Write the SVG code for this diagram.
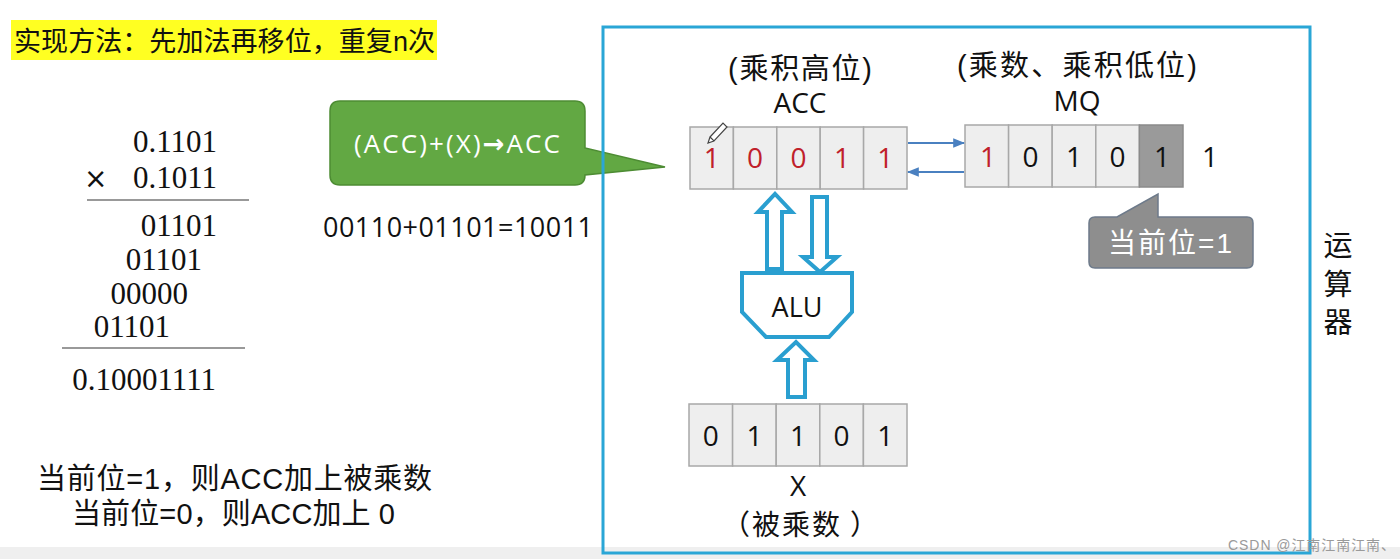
<svg xmlns="http://www.w3.org/2000/svg" width="1400" height="559" viewBox="0 0 1400 559">
<defs>
<style>
.cjk{font-family:"Liberation Sans","Noto Sans CJK SC",sans-serif;fill:#111}
.cjkf{font-family:"Noto Sans CJK SC",sans-serif;fill:#111}
.serif{font-family:"Liberation Serif",serif;font-size:31px;fill:#111}
.sans{font-family:"Open Sans","Liberation Sans","Noto Sans CJK SC",sans-serif;fill:#111}
.cell{fill:#eeeeee;stroke:#a8a8a8;stroke-width:1.5}
.dig{font-family:"Open Sans","Liberation Sans",sans-serif;font-size:28px;text-anchor:middle}
.red{fill:#c0202a}
.blk{fill:#111}
.hollow{fill:#fff;stroke:#2a9fd0;stroke-width:4;stroke-linejoin:miter}
.thin{stroke:#4a80c0;stroke-width:2;fill:none}
</style>
<marker id="ah" viewBox="0 0 10 10" refX="9" refY="5" markerWidth="6" markerHeight="6" orient="auto-start-reverse">
<path d="M0,1 L10,5 L0,9 z" fill="#4a80c0"/>
</marker>
</defs>
<rect width="1400" height="559" fill="#fff"/>
<rect x="0" y="547" width="1400" height="12" fill="#efefef"/>

<g id="title">
<rect x="11" y="20" width="426" height="40" fill="#ffff22"/>
<text class="cjk" x="14" y="51" font-size="27" textLength="421">实现方法：先加法再移位，重复n次</text>
</g>

<g id="calculation">
<text class="serif" x="217" y="152" text-anchor="end">0.1101</text>
<text x="84" y="188" font-family="DejaVu Sans,sans-serif" font-size="28" fill="#111">×</text>
<text class="serif" x="217" y="188" text-anchor="end">0.1011</text>
<line x1="87" y1="200" x2="249" y2="200" stroke="#777" stroke-width="1.5"/>
<text class="serif" x="217" y="236" text-anchor="end">01101</text>
<text class="serif" x="202" y="270" text-anchor="end">01101</text>
<text class="serif" x="188" y="304" text-anchor="end">00000</text>
<text class="serif" x="170" y="337" text-anchor="end">01101</text>
<line x1="62" y1="348" x2="245" y2="348" stroke="#777" stroke-width="1.5"/>
<text class="serif" x="216" y="390" text-anchor="end">0.10001111</text>
</g>

<g id="green-callout">
<path d="M340,101 H575 Q585,101 585,111 V148 L665,167 L585,175 V175 Q585,185 575,185 H340 Q330,185 330,175 V111 Q330,101 340,101 Z" fill="#62a843" stroke="#4d8c33" stroke-width="1.5"/>
<text class="sans" x="354" y="153" font-size="26" textLength="206" style="fill:#fff">(ACC)+(X)<tspan font-family="DejaVu Sans,sans-serif" font-weight="bold">→</tspan>ACC</text>
</g>

<g id="sum">
<text class="sans" x="323" y="237" font-size="27" textLength="270">00110+01101=10011</text>
</g>

<g id="frame">
<rect x="603" y="27" width="707" height="526" fill="none" stroke="#2aa6d6" stroke-width="3"/>
<text class="cjk" x="1338" y="256" font-size="29" text-anchor="middle">运</text>
<text class="cjk" x="1338" y="295" font-size="29" text-anchor="middle">算</text>
<text class="cjk" x="1338" y="333" font-size="29" text-anchor="middle">器</text>
</g>

<g id="acc">
<text class="cjk" x="728" y="79" font-size="29" textLength="144">(乘积高位)</text>
<text class="sans" x="800" y="113" font-size="28" text-anchor="middle">ACC</text>
<rect class="cell" x="690" y="127" width="43.4" height="62"/>
<rect class="cell" x="733.4" y="127" width="43.4" height="62"/>
<rect class="cell" x="776.8" y="127" width="43.4" height="62"/>
<rect class="cell" x="820.2" y="127" width="43.4" height="62"/>
<rect class="cell" x="863.6" y="127" width="43.4" height="62"/>
<text class="dig red" x="711.7" y="168">1</text>
<text class="dig red" x="755.1" y="168">0</text>
<text class="dig red" x="798.5" y="168">0</text>
<text class="dig red" x="841.9" y="168">1</text>
<text class="dig red" x="885.3" y="168">1</text>
<path d="M710,137 L723,123 L727,127 L714,141 Z M710,137 L708,143 L714,141" fill="#fff" stroke="#444" stroke-width="1.2"/>
</g>

<g id="mq">
<text class="cjk" x="957" y="76" font-size="29" textLength="240">(乘数、乘积低位)</text>
<text class="sans" x="1077" y="111" font-size="28" text-anchor="middle">MQ</text>
<rect class="cell" x="965" y="125" width="43.6" height="62"/>
<rect class="cell" x="1008.6" y="125" width="43.6" height="62"/>
<rect class="cell" x="1052.2" y="125" width="43.6" height="62"/>
<rect class="cell" x="1095.8" y="125" width="43.6" height="62"/>
<rect x="1139.4" y="125" width="43.6" height="62" fill="#9a9a9a" stroke="#8a8a8a" stroke-width="1.5"/>
<text class="dig red" x="988" y="167">1</text>
<text class="dig blk" x="1030.4" y="167">0</text>
<text class="dig blk" x="1074" y="167">1</text>
<text class="dig blk" x="1117.6" y="167">0</text>
<text class="dig blk" x="1162" y="167">1</text>
<text class="dig blk" x="1210" y="167">1</text>
</g>

<g id="x-reg">
<rect class="cell" x="689" y="404" width="43.6" height="62"/>
<rect class="cell" x="732.6" y="404" width="43.6" height="62"/>
<rect class="cell" x="776.2" y="404" width="43.6" height="62"/>
<rect class="cell" x="819.8" y="404" width="43.6" height="62"/>
<rect class="cell" x="863.4" y="404" width="43.6" height="62"/>
<text class="dig blk" x="710.8" y="446">0</text>
<text class="dig blk" x="754.4" y="446">1</text>
<text class="dig blk" x="798" y="446">1</text>
<text class="dig blk" x="841.6" y="446">0</text>
<text class="dig blk" x="885.2" y="446">1</text>
<text class="sans" x="798" y="496" font-size="28" text-anchor="middle">X</text>
<text class="cjkf" x="722 752 782 812 850" y="535" font-size="28">（被乘数）</text>
</g>

<g id="alu">
<path class="hollow" d="M742,273 H852 V312 L829,337 H766 L742,312 Z"/>
<text class="sans" x="797" y="317" font-size="27" text-anchor="middle">ALU</text>
</g>

<g id="gray-callout">
<path d="M1095,217 H1117 L1158,194 V217 H1247 Q1253,217 1253,223 V262 Q1253,268 1247,268 H1095 Q1089,268 1089,262 V223 Q1089,217 1095,217 Z" fill="#8e8e8e" stroke="#6d7a8a" stroke-width="1.5"/>
<text class="cjk" x="1108" y="253" font-size="28" textLength="124" style="fill:#fff">当前位=1</text>
</g>

<g id="connectors">
<line class="thin" x1="908" y1="143" x2="964" y2="143" marker-end="url(#ah)"/>
<line class="thin" x1="964" y1="172" x2="908" y2="172" marker-end="url(#ah)"/>
<path class="hollow" d="M767,269 V212 H758 L775,194 L792,212 H782 V269 Z"/>
<path class="hollow" d="M812,197 V257 H803 L820,272 L837,257 H827 V197 Z"/>
<path class="hollow" d="M788,397 V360 H777 L796,342 L814,360 H805 V397 Z"/>
</g>

<g id="notes">
<text class="cjk" x="37" y="489" font-size="29" textLength="395">当前位=1，则ACC加上被乘数</text>
<text class="cjk" x="72" y="524" font-size="29" textLength="323">当前位=0，则ACC加上 0</text>
</g>

<g id="watermark">
<text x="1228" y="550" font-family="Liberation Sans,Noto Sans CJK SC,sans-serif" font-size="14" fill="#9a9a9a" textLength="167">CSDN @江南江南江南、</text>
</g>
</svg>
